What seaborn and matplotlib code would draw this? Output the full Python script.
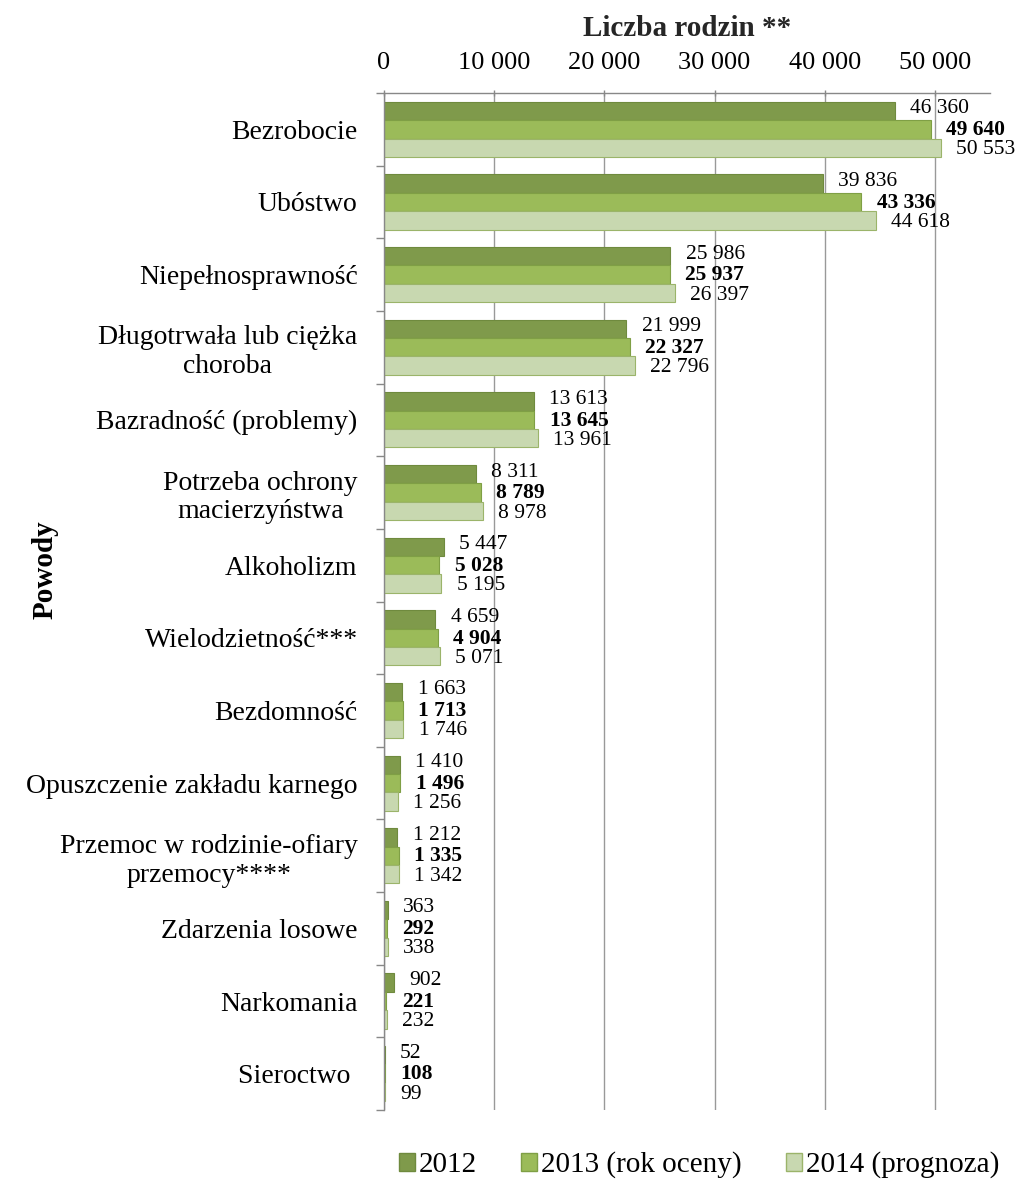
import matplotlib
matplotlib.use("Agg")
import matplotlib.pyplot as plt
import seaborn as sns
import pandas as pd
from matplotlib.ticker import FixedLocator, FuncFormatter

# ─── Data ─────────────────────────────────────────────────────────────────────
powody = [
    "Bezrobocie", "Ubóstwo", "Niepełnosprawność",
    "Długotrwała lub ciężka\nchoroba", "Bazradność (problemy)",
    "Potrzeba ochrony\nmacierzyństwa", "Alkoholizm", "Wielodzietność***",
    "Bezdomność", "Opuszczenie zakładu karnego",
    "Przemoc w rodzinie-ofiary\nprzemocy****", "Zdarzenia losowe",
    "Narkomania", "Sieroctwo ",
]
lata = ["2012", "2013 (rok oceny)", "2014 (prognoza)"]
v2012 = [46360, 39836, 25986, 21999, 13613, 8311, 5447, 4659, 1663, 1410, 1212, 363, 902, 52]
v2013 = [49640, 43336, 25937, 22327, 13645, 8789, 5028, 4904, 1713, 1496, 1335, 292, 221, 108]
v2014 = [50553, 44618, 26397, 22796, 13961, 8978, 5195, 5071, 1746, 1256, 1342, 338, 232, 99]
x_ticks = [0, 10000, 20000, 30000, 40000, 50000]

colors = ["#7f9a4b", "#9bbb59", "#c8d8b0"]
edges = ["#6f8a3e", "#7f9f45", "#9bb46a"]


def fmt(v):
    return f"{int(v):,}".replace(",", " ")


# ─── Build table ──────────────────────────────────────────────────────────────
rows = []
for rok, vals in zip(lata, [v2012, v2013, v2014]):
    for p, v in zip(powody, vals):
        rows.append({"Powód": p, "Liczba": v, "Rok": rok})
df = pd.DataFrame(rows)

sns.set_theme(style="white")
plt.rcParams["font.family"] = ["Liberation Serif", "DejaVu Serif"]
plt.rcParams["text.color"] = "black"
plt.rcParams["xtick.color"] = "black"
plt.rcParams["ytick.color"] = "black"

fig = plt.figure(figsize=(10.22, 11.82), dpi=100)
ax = fig.add_axes([384 / 1022, 1 - 1110 / 1182, 606 / 1022, 1017 / 1182])

sns.barplot(data=df, y="Powód", x="Liczba", hue="Rok", order=powody,
            hue_order=lata, palette=colors, saturation=1, orient="h",
            width=0.76, dodge=True, ax=ax, legend=True)

for cont, ec in zip(ax.containers, edges):
    for bar in cont:
        bar.set_edgecolor(ec)
        bar.set_linewidth(0.8)

# data labels (2013 in bold), spread a little vertically like the original
shifts = [1.5, -0.5, -1.5]
for i, (cont, vals) in enumerate(zip(ax.containers, [v2012, v2013, v2014])):
    anns = ax.bar_label(cont, labels=[fmt(v) for v in vals], padding=11,
                        fontsize=15.5, fontweight="bold" if i == 1 else "normal",
                        color="black", clip_on=False)
    for a in anns:
        a.xyann = (11, shifts[i])

# ─── Axes styling ─────────────────────────────────────────────────────────────
ax.set_xlim(0, 55000)
ax.set_ylim(len(powody) - 0.5, -0.5)
ax.xaxis.tick_top()
ax.xaxis.set_label_position("top")
ax.xaxis.set_major_locator(FixedLocator(x_ticks))
ax.xaxis.set_major_formatter(FuncFormatter(lambda v, _: fmt(v)))
ax.tick_params(axis="x", which="major", top=True, length=5, width=1,
               color="#888888", labelcolor="black", labelsize=19, pad=11,
               direction="inout")
ax.grid(axis="x", color="#999999", linewidth=1)
ax.set_axisbelow(True)

ax.yaxis.set_minor_locator(FixedLocator([k + 0.5 for k in range(-1, len(powody))]))
ax.tick_params(axis="y", which="major", length=0, labelsize=20, pad=19,
               labelcolor="black")
ax.tick_params(axis="y", which="minor", left=True, length=6, width=1, color="#888888")
for lbl in ax.get_yticklabels():
    lbl.set_multialignment("center")

for s in ["right", "bottom"]:
    ax.spines[s].set_visible(False)
for s in ["left", "top"]:
    ax.spines[s].set_color("#888888")
    ax.spines[s].set_linewidth(1)

ax.set_xlabel("Liczba rodzin **", fontsize=21, fontweight="bold", labelpad=12)
ax.set_ylabel("")
fig.text(45 / 1022, 1 - 570 / 1182, "Powody", rotation=90, fontsize=21,
         fontweight="bold", ha="center", va="center")

leg = ax.legend(loc="center", bbox_to_anchor=(0.52, -0.054), ncol=3,
                frameon=False, fontsize=21, handlelength=0.55,
                handleheight=0.55, handletextpad=0.15, columnspacing=1.5)
for h, ec in zip(leg.legend_handles, edges):
    h.set_edgecolor(ec)

fig.savefig("out.png", dpi=100)
